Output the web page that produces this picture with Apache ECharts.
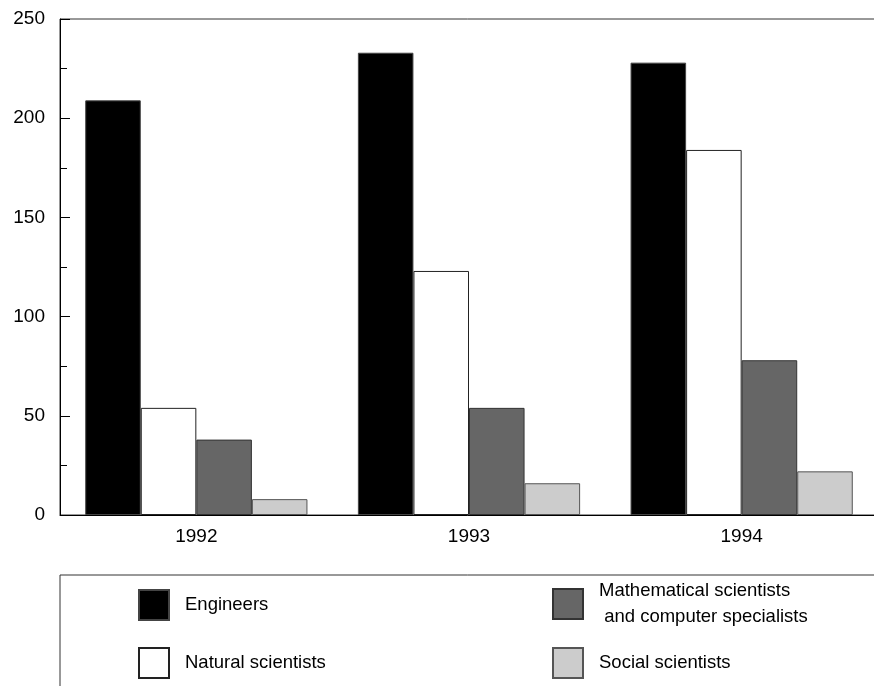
<!DOCTYPE html>
<html>
<head>
<meta charset="utf-8">
<script src="https://cdn.jsdelivr.net/npm/echarts@6/dist/echarts.min.js"></script>
<style>
  html, body { margin: 0; padding: 0; background: #fff; }
  #chart { width: 874px; height: 686px; }
</style>
</head>
<body>
<div id="chart"></div>
<script>
// data
const years = ['1992', '1993', '1994'];
const engineers = [209, 233, 228];
const naturalScientists = [54, 123, 184];
const mathComputer = [38, 54, 78];
const socialScientists = [8, 16, 22];

const MATH_NAME = 'Mathematical scientists and computer specialists';
const FONT = '"Liberation Sans", Arial, sans-serif';

const chart = echarts.init(document.getElementById('chart'));

function bar(name, data, color, border) {
  return {
    name: name,
    type: 'bar',
    data: data,
    barGap: 0,
    barCategoryGap: '18.5%',
    itemStyle: { color: color, borderColor: border, borderWidth: 1 },
    emphasis: { disabled: true }
  };
}

// one legend per entry so each box sits where the original has it
function legendItem(name, left, top, padTop) {
  return {
    orient: 'vertical',
    left: left,
    top: top,
    padding: 0,
    itemWidth: 30,
    itemHeight: 30,
    icon: 'rect',
    selectedMode: false,
    data: [name],
    formatter: function (n) {
      return n === MATH_NAME ? 'Mathematical scientists\n and computer specialists' : n;
    },
    textStyle: {
      color: '#000',
      fontSize: 18.5,
      fontFamily: FONT,
      lineHeight: 26,
      padding: [padTop, 0, 0, 11]
    }
  };
}

const option = {
  animation: false,
  textStyle: { fontFamily: FONT },
  grid: {
    left: 60,
    top: 19,
    right: -4,
    bottom: 171,
    outerBoundsMode: 'none',
    containLabel: false,
    show: true,
    borderColor: '#333',
    borderWidth: 1
  },
  xAxis: {
    type: 'category',
    data: years,
    axisLine: { lineStyle: { color: '#000', width: 1 } },
    axisTick: { show: false },
    axisLabel: { color: '#000', fontSize: 19, margin: 12 }
  },
  yAxis: {
    type: 'value',
    min: 0,
    max: 250,
    interval: 50,
    axisLine: { show: true, lineStyle: { color: '#000', width: 1 } },
    axisTick: { show: true, inside: true, length: 10, lineStyle: { color: '#000' } },
    minorTick: { show: true, splitNumber: 2, length: 7, lineStyle: { color: '#000' } },
    splitLine: { show: false },
    axisLabel: { color: '#000', fontSize: 19, margin: 15 }
  },
  legend: [
    legendItem('Engineers', 138, 589, 0),
    legendItem('Natural scientists', 138, 647, 0),
    legendItem(MATH_NAME, 552, 573.5, 9),
    legendItem('Social scientists', 552, 647, 0)
  ],
  graphic: [
    {
      type: 'rect',
      shape: { x: 60, y: 575, width: 900, height: 200 },
      style: { fill: 'none', stroke: '#333', lineWidth: 1 },
      silent: true
    }
  ],
  series: [
    bar('Engineers', engineers, '#000', '#444'),
    bar('Natural scientists', naturalScientists, '#fff', '#222'),
    bar(MATH_NAME, mathComputer, '#666', '#333'),
    bar('Social scientists', socialScientists, '#ccc', '#555')
  ]
};

chart.setOption(option);
</script>
</body>
</html>
